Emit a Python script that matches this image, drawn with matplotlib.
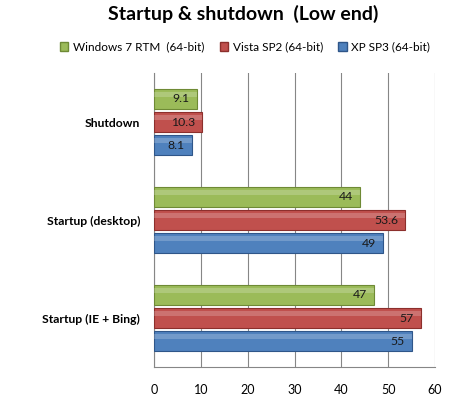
import numpy as np
import matplotlib.pyplot as plt

plt.rcParams['font.family'] = ['Lato', 'DejaVu Sans']

# data
categories = ['Shutdown', 'Startup (desktop)', 'Startup (IE + Bing)']
series_names = ['Windows 7 RTM  (64-bit)', 'Vista SP2 (64-bit)', 'XP SP3 (64-bit)']
win7 = [9.1, 44, 47]
vista = [10.3, 53.6, 57]
xp = [8.1, 49, 55]
value_labels = [['9.1', '44', '47'], ['10.3', '53.6', '57'], ['8.1', '49', '55']]
x_ticks = [0, 10, 20, 30, 40, 50, 60]

colors = ['#9BBB59', '#C0504D', '#4F81BD']
edges = ['#6E8A35', '#8C2F2C', '#2F5689']

fig = plt.figure(figsize=(4.58, 3.98), dpi=100)
ax = fig.add_axes([154 / 458, 1 - 367 / 398, (435 - 154) / 458, (367 - 73) / 398])

y = np.arange(len(categories))
offsets = [-0.235, 0, 0.235]
bar_h = 0.195

for vals, labels, off, c, ec, name in zip([win7, vista, xp], value_labels, offsets, colors, edges, series_names):
    bars = ax.barh(y + off, vals, height=bar_h, color=c, edgecolor=ec, linewidth=0.8, label=name, zorder=3)
    # light bevel on top part of each bar
    ax.barh(y + off - bar_h * 0.25, vals, height=bar_h * 0.25, color='white', alpha=0.2, linewidth=0, zorder=4)
    for b, txt in zip(bars, labels):
        ax.annotate(txt, (b.get_width(), b.get_y() + b.get_height() / 2),
                    xytext=(-5, 0), textcoords='offset points', ha='right', va='center',
                    fontsize=8.8, color='#1a1a1a', zorder=5)

ax.set_xlim(0, 60)
ax.set_ylim(2.5, -0.5)
ax.set_xticks(x_ticks)
ax.set_yticks(y)
ax.set_yticklabels(categories, fontweight='bold', fontsize=8.7)
ax.tick_params(axis='x', length=0, pad=12, labelsize=9)
ax.tick_params(axis='y', length=0, pad=10)
ax.grid(axis='x', color='#868686', linewidth=0.8, zorder=0)
for s in ['top', 'right']:
    ax.spines[s].set_visible(False)
ax.spines['left'].set_color('#868686')
ax.spines['bottom'].set_color('#868686')

fig.text(0.53, 1 - 14 / 398, 'Startup & shutdown  (Low end)', ha='center', va='center',
         fontsize=14, fontweight='bold')

handles = [plt.Rectangle((0, 0), 1, 1, color=c, ec=ec) for c, ec in zip(colors, edges)]
fig.legend(handles, series_names, loc='center', bbox_to_anchor=(0.535, 1 - 47 / 398), ncol=3,
           frameon=False, fontsize=8.5, handlelength=0.7, handleheight=0.7,
           handletextpad=0.4, columnspacing=1.3)

fig.savefig('out.png', dpi=100)
